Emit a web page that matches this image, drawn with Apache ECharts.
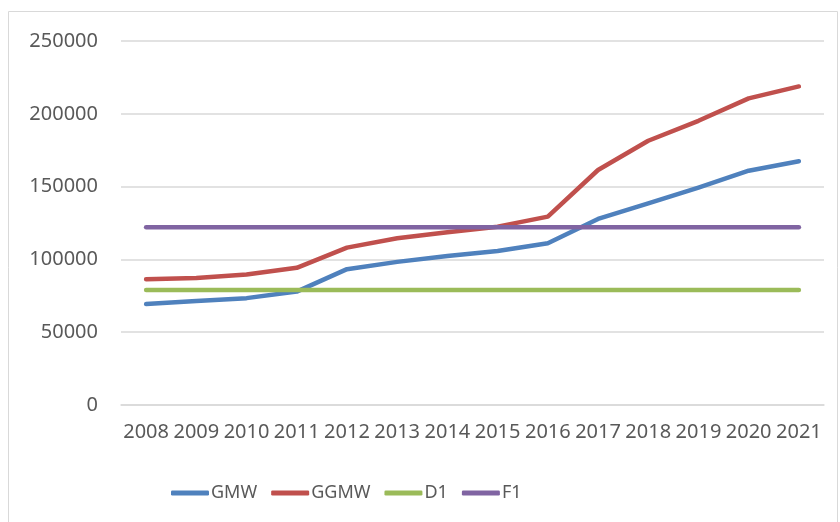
<!DOCTYPE html>
<html>
<head>
<meta charset="utf-8">
<script src="https://cdn.jsdelivr.net/npm/echarts@6/dist/echarts.min.js"></script>
<style>
  html, body { margin: 0; padding: 0; background: #fff; }
  #chart { width: 840px; height: 522px; }
</style>
</head>
<body>
<div id="chart"></div>
<script>
// years on the x axis
const years = ['2008', '2009', '2010', '2011', '2012', '2013', '2014',
    '2015', '2016', '2017', '2018', '2019', '2020', '2021']

// values
const gmw = [69300, 71500, 73400, 77900, 93300, 98300, 102400,
    105800, 111100, 127800, 138500, 149300, 160900, 167400]
const ggmw = [86400, 87300, 89600, 94200, 108100, 114500, 118700,
    122500, 129400, 161400, 181500, 195200, 210600, 218800]
const d1 = [79000, 79000, 79000, 79000, 79000, 79000, 79000,
    79000, 79000, 79000, 79000, 79000, 79000, 79000]
const f1 = [122000, 122000, 122000, 122000, 122000, 122000, 122000,
    122000, 122000, 122000, 122000, 122000, 122000, 122000]

const names = ['GMW', 'GGMW', 'D1', 'F1']
const colors = ['#4F81BD', '#C0504D', '#9BBB59', '#8064A2']
const allData = [gmw, ggmw, d1, f1]

const fontName = 'Noto Sans'
let seriesData = []
for (let i in names) {
    seriesData.push({
        name: names[i],
        type: 'line',
        data: allData[i],
        symbol: 'none',
        lineStyle: { width: 4.5, color: colors[i], cap: 'round', join: 'round' },
        itemStyle: { color: colors[i] }
    })
}

var chart = echarts.init(document.getElementById('chart'))
chart.setOption({
    animation: false,
    color: colors,
    graphic: [{
        type: 'rect',
        shape: { x: 8.5, y: 11.5, width: 829, height: 530 },
        style: { fill: 'none', stroke: '#d9d9d9', lineWidth: 1 },
        silent: true
    }],
    grid: {
        left: 121,
        right: 16,
        top: 41,
        bottom: 117
    },
    legend: {
        data: names,
        left: 166,
        top: 479,
        icon: 'roundRect',
        itemWidth: 38,
        itemHeight: 5,
        itemGap: 14,
        textStyle: {
            fontFamily: fontName,
            fontSize: 18,
            color: '#595959',
            padding: [0, 0, 0, -3]
        }
    },
    xAxis: {
        type: 'category',
        boundaryGap: true,
        data: years,
        axisLine: { lineStyle: { color: '#d9d9d9', width: 1.5 } },
        axisTick: { show: false },
        axisLabel: {
            interval: 0,
            margin: 17,
            fontFamily: fontName,
            fontSize: 20,
            color: '#595959'
        }
    },
    yAxis: {
        type: 'value',
        min: 0,
        max: 250000,
        interval: 50000,
        axisLine: { show: false },
        axisTick: { show: false },
        splitLine: { lineStyle: { color: '#d9d9d9', width: 1.5 } },
        axisLabel: {
            margin: 23,
            fontFamily: fontName,
            fontSize: 20,
            color: '#595959',
            formatter: function (v) { return String(v) }
        }
    },
    series: seriesData
})
</script>
</body>
</html>
